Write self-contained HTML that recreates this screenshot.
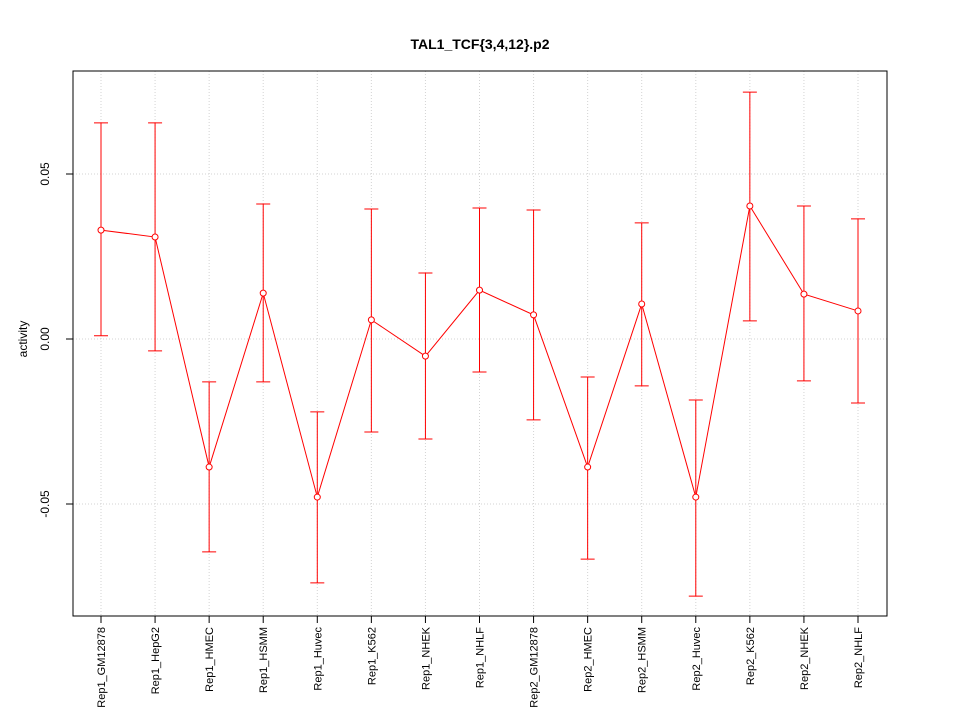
<!DOCTYPE html>
<html><head><meta charset="utf-8"><style>
body{margin:0;background:#fff;}
svg text{font-family:"Liberation Sans",sans-serif;}
</style></head><body>
<svg id="chart" width="960" height="720" xmlns="http://www.w3.org/2000/svg">
<text x="480" y="49" text-anchor="middle" font-size="14" font-weight="bold">TAL1_TCF{3,4,12}.p2</text>
<text transform="translate(27,339) rotate(-90)" text-anchor="middle" font-size="12">activity</text>
<g id="grid"></g>
<g id="axes"></g>
<g id="marks"></g>
<rect x="73" y="71" width="814" height="545" fill="none" stroke="#000"/>
</svg>
<script>
const categories=["Rep1_GM12878","Rep1_HepG2","Rep1_HMEC","Rep1_HSMM","Rep1_Huvec","Rep1_K562","Rep1_NHEK","Rep1_NHLF","Rep2_GM12878","Rep2_HMEC","Rep2_HSMM","Rep2_Huvec","Rep2_K562","Rep2_NHEK","Rep2_NHLF"];
const values=[0.0330,0.0309,-0.0388,0.0139,-0.0479,0.0058,-0.0052,0.0148,0.0073,-0.0388,0.0106,-0.0479,0.0403,0.0136,0.0085];
const upper=[0.0655,0.0655,-0.0130,0.0409,-0.0221,0.0394,0.0200,0.0397,0.0391,-0.0115,0.0352,-0.0185,0.0748,0.0403,0.0364];
const lower=[0.0010,-0.0036,-0.0645,-0.0130,-0.0739,-0.0282,-0.0303,-0.0100,-0.0245,-0.0667,-0.0142,-0.0779,0.0055,-0.0127,-0.0194];
const yTicks=[-0.05,0,0.05];
const yTickLabels=["-0.05","0.00","0.05"];
const NS="http://www.w3.org/2000/svg";
function X(i){return 101+i*(858-101)/(categories.length-1);}
function Y(v){return 339-v*3300;}
function mk(parent,tag,attrs){const e=document.createElementNS(NS,tag);for(const k in attrs)e.setAttribute(k,attrs[k]);document.getElementById(parent).appendChild(e);return e;}
yTicks.forEach((t,i)=>{
 let g=mk('grid','line',{x1:73,x2:887,y1:Y(t),y2:Y(t),stroke:'#d3d3d3','stroke-dasharray':'1,2'});
 
 
 let tk=mk('axes','line',{x1:66,x2:73,y1:Y(t),y2:Y(t),stroke:'#000'});
 
 
 let tx=mk('axes','text',{transform:`translate(49,${Y(t)}) rotate(-90)`,'text-anchor':'middle','font-size':12});
 tx.textContent=yTickLabels[i];
 
 
});
categories.forEach((c,i)=>{
 let g=mk('grid','line',{x1:X(i),x2:X(i),y1:71,y2:616,stroke:'#d3d3d3','stroke-dasharray':'1,2'});
 
 
 let tk=mk('axes','line',{x1:X(i),x2:X(i),y1:616,y2:623,stroke:'#000'});
 
 
 let tx=mk('axes','text',{transform:`translate(${X(i)+4},627) rotate(-90)`,'text-anchor':'end','font-size':11});
 tx.textContent=c;
 
 
});
let pts=values.map((v,i)=>X(i)+','+Y(v)).join(' ');
let pl=mk('marks','polyline',{points:pts,fill:'none',stroke:'#ff0000'});


values.forEach((v,i)=>{
 const x=X(i);
 let e=mk('marks','path',{d:`M${x},${Y(upper[i])}V${Y(lower[i])}M${x-7},${Y(upper[i])}H${x+7}M${x-7},${Y(lower[i])}H${x+7}`,stroke:'#ff0000',fill:'none'});
 
 
 let p=mk('marks','circle',{cx:x,cy:Y(v),r:3,fill:'#fff',stroke:'#ff0000'});
 
 
});
</script>
</body></html>
